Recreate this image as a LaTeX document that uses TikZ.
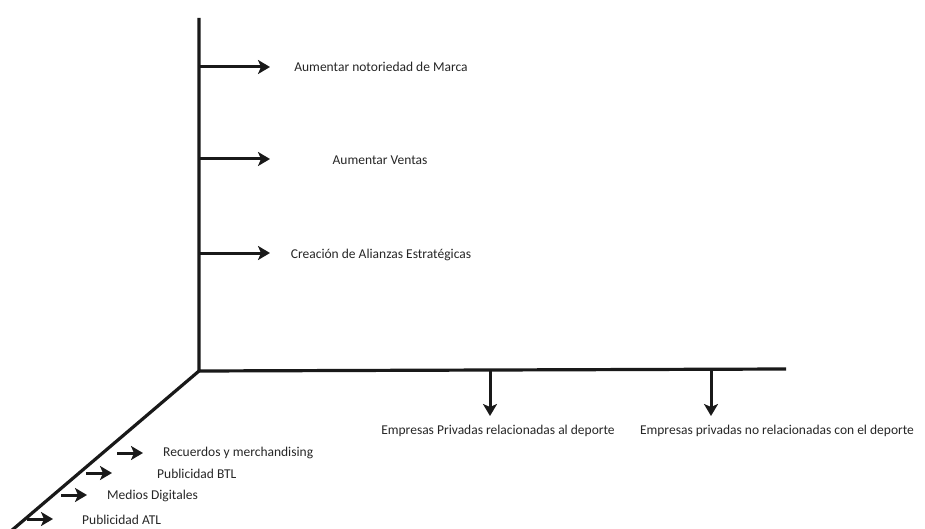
\documentclass[tikz,border=0pt]{standalone}
\usepackage{fontspec}
\setmainfont{Carlito}
\usetikzlibrary{arrows.meta}
\begin{document}
\begin{tikzpicture}[x=1pt,y=-1pt,
  axis/.style={line width=3.2pt,black!90},
  arr/.style={line width=3pt,black!90,-{Stealth[length=12pt,width=14pt,inset=3pt]}},
  lbl/.style={font=\fontsize{13.5}{15}\selectfont,text=black!85,inner sep=0pt}]
\useasboundingbox (0,0) rectangle (925,529);
\begin{scope}
\clip (0,0) rectangle (925,529);
% axes
\coordinate (T) at (199,18);
\coordinate (O) at (199,371);
\coordinate (R) at (786,369);
\coordinate (D) at (11,531);
\draw[axis] (T) -- (O) -- (R);
\draw[axis] (O) -- (D);
% top objectives
\coordinate (a1) at (199,67);
\coordinate (b1) at (270,67);
\coordinate (a2) at (199,159);
\coordinate (b2) at (270,159);
\coordinate (a3) at (199,253);
\coordinate (b3) at (270,253);
\draw[arr] (a1) -- (b1);
\draw[arr] (a2) -- (b2);
\draw[arr] (a3) -- (b3);
\node[lbl] (t1) at (381,67) {Aumentar notoriedad de Marca};
\node[lbl] (t2) at (380,160) {Aumentar Ventas};
\node[lbl] (t3) at (381,255) {Creación de Alianzas Estratégicas};
% down arrows
\coordinate (c1) at (490,369);
\coordinate (d1) at (490,416);
\coordinate (c2) at (711,369);
\coordinate (d2) at (711,416);
\draw[arr] (c1) -- (d1);
\draw[arr] (c2) -- (d2);
\node[lbl] (e1) at (498,431) {Empresas Privadas relacionadas al deporte};
\node[lbl] (e2) at (777,431) {Empresas privadas no relacionadas con el deporte};
% lower-left items
\coordinate (p1) at (117,453);
\coordinate (q1) at (143,453);
\coordinate (p2) at (86,473);
\coordinate (q2) at (112,473);
\coordinate (p3) at (61,495);
\coordinate (q3) at (87,495);
\coordinate (p4) at (27,519);
\coordinate (q4) at (53,519);
\draw[arr] (p1) -- (q1);
\draw[arr] (p2) -- (q2);
\draw[arr] (p3) -- (q3);
\draw[arr] (p4) -- (q4);
\node[lbl,anchor=west] (l1) at (163,453) {Recuerdos y merchandising};
\node[lbl,anchor=west] (l2) at (157,474) {Publicidad BTL};
\node[lbl,anchor=west] (l3) at (107,496) {Medios Digitales};
\node[lbl,anchor=west] (l4) at (82,520) {Publicidad ATL};
\end{scope}
\end{tikzpicture}
\end{document}
